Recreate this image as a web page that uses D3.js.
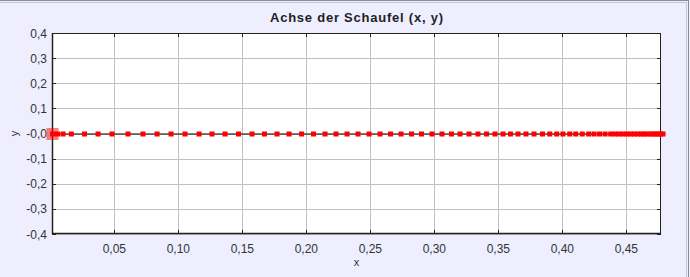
<html>
    <head>
        <script src="https://d3js.org/d3.v7.min.js"></script>
        <style>
            body { margin: 0; background: #eeeeff; }
            svg { display: block; }
            text { font-family: "Liberation Sans", Arial, sans-serif; fill: #333; }
        </style>
    </head>
    <body>
        <script type="text/javascript">
            // blade axis points (x, y)
            const xValues = [
                0.0017, 0.0056, 0.0099, 0.0164, 0.0267, 0.0373, 0.0482, 0.0607, 0.0724, 0.0834,
                0.0943, 0.1052, 0.1162, 0.1263, 0.1365, 0.1470, 0.1576, 0.1673, 0.1771, 0.1865,
                0.1963, 0.2056, 0.2146, 0.2232, 0.2318, 0.2404, 0.2490, 0.2576, 0.2658, 0.2740,
                0.2822, 0.2900, 0.2982, 0.3060, 0.3134, 0.3201, 0.3271, 0.3341, 0.3408, 0.3474,
                0.3537, 0.3595, 0.3654, 0.3716, 0.3779, 0.3845, 0.3902, 0.3956, 0.4005, 0.4058,
                0.4105, 0.4156, 0.4206, 0.4248, 0.4291, 0.4334, 0.4378, 0.4412, 0.4443, 0.4474,
                0.4505, 0.4533, 0.4560, 0.4588, 0.4615, 0.4638, 0.4662, 0.4685, 0.4709, 0.4728,
                0.4748, 0.4767, 0.4787
            ];
            const yValues = [
                0, 0, 0, 0, 0, 0, 0, 0, 0, 0,
                0, 0, 0, 0, 0, 0, 0, 0, 0, 0,
                0, 0, 0, 0, 0, 0, 0, 0, 0, 0,
                0, 0, 0, 0, 0, 0, 0, 0, 0, 0,
                0, 0, 0, 0, 0, 0, 0, 0, 0, 0,
                0, 0, 0, 0, 0, 0, 0, 0, 0, 0,
                0, 0, 0, 0, 0, 0, 0, 0, 0, 0,
                0, 0, 0
            ];
            const selectedIndex = 0;

            const xTicks = [0.05, 0.10, 0.15, 0.20, 0.25, 0.30, 0.35, 0.40, 0.45];
            const xTickLabels = ["0,05", "0,10", "0,15", "0,20", "0,25", "0,30", "0,35", "0,40", "0,45"];
            const yTicks = [0.4, 0.3, 0.2, 0.1, 0, -0.1, -0.2, -0.3, -0.4];
            const yTickLabels = ["0,4", "0,3", "0,2", "0,1", "-0,0", "-0,1", "-0,2", "-0,3", "-0,4"];

            const title = "Achse der Schaufel (x, y)";

            const width = 690;
            const height = 277;
            const plot = {left: 52, top: 33, right: 661, bottom: 234};

            const points = xValues.map((x, i) => ({x: x, y: yValues[i]}));

            const x = d3.scaleLinear().domain([0.0013, 0.4771]).range([plot.left, plot.right]);
            const y = d3.scaleLinear().domain([-0.4, 0.4]).range([plot.bottom, plot.top]);

            const svg = d3.select('body')
                .append('svg')
                .attr('width', width)
                .attr('height', height);

            // panel border (top and right edges)
            svg.append("line").attr("x1", 0).attr("x2", 689).attr("y1", 0.5).attr("y2", 0.5).style("stroke", "#8c8c99");
            svg.append("line").attr("x1", 0).attr("x2", 687).attr("y1", 2.5).attr("y2", 2.5).style("stroke", "#c4c4d4");
            svg.append("line").attr("x1", 686.5).attr("x2", 686.5).attr("y1", 2).attr("y2", height).style("stroke", "#c4c4d4");
            svg.append("line").attr("x1", 688.5).attr("x2", 688.5).attr("y1", 0).attr("y2", height).style("stroke", "#8c8c99");

            svg.append("text")
                .attr("x", (plot.left + plot.right) / 2)
                .attr("y", 22)
                .attr("text-anchor", "middle")
                .attr("textLength", 173)
                .attr("lengthAdjust", "spacing")
                .style("font-weight", "bold")
                .style("font-size", "13px")
                .style("fill", "#222")
                .text(title);

            svg.append("rect")
                .attr("x", plot.left)
                .attr("y", plot.top)
                .attr("width", plot.right - plot.left)
                .attr("height", plot.bottom - plot.top)
                .style("fill", "#fff");

            // grid
            svg.append("g").selectAll("line").data(xTicks).enter().append("line")
                .attr("x1", d => Math.round(x(d)) + 0.5).attr("x2", d => Math.round(x(d)) + 0.5)
                .attr("y1", plot.top).attr("y2", plot.bottom)
                .style("stroke", "#c0c0c0");
            svg.append("g").selectAll("line").data(yTicks).enter().append("line")
                .attr("x1", plot.left).attr("x2", plot.right)
                .attr("y1", d => Math.round(y(d)) + 0.5).attr("y2", d => Math.round(y(d)) + 0.5)
                .style("stroke", "#c0c0c0");

            // inward tick marks on all four sides
            const tickLen = 4;
            const ticks = svg.append("g").style("stroke", "#222");
            xTicks.forEach(d => {
                const px = Math.round(x(d)) + 0.5;
                ticks.append("line").attr("x1", px).attr("x2", px).attr("y1", plot.bottom).attr("y2", plot.bottom - tickLen);
                ticks.append("line").attr("x1", px).attr("x2", px).attr("y1", plot.top).attr("y2", plot.top + tickLen);
            });
            yTicks.forEach(d => {
                const py = Math.round(y(d)) + 0.5;
                ticks.append("line").attr("x1", plot.left).attr("x2", plot.left + tickLen).attr("y1", py).attr("y2", py);
                ticks.append("line").attr("x1", plot.right).attr("x2", plot.right - tickLen).attr("y1", py).attr("y2", py);
            });

            // frame
            svg.append("rect")
                .attr("x", plot.left + 0.5)
                .attr("y", plot.top + 0.5)
                .attr("width", plot.right - plot.left - 1)
                .attr("height", plot.bottom - plot.top - 1)
                .style("fill", "none")
                .style("stroke", "#222");
            svg.append("line").attr("x1", plot.left).attr("x2", plot.right).attr("y1", plot.bottom - 0.5).attr("y2", plot.bottom - 0.5)
                .style("stroke", "#222").style("stroke-width", 1.5);
            svg.append("line").attr("x1", plot.left + 0.5).attr("x2", plot.left + 0.5).attr("y1", plot.top).attr("y2", plot.bottom)
                .style("stroke", "#222").style("stroke-width", 1.5);

            // tick labels
            svg.append("g").selectAll("text").data(xTicks).enter().append("text")
                .attr("x", d => x(d))
                .attr("y", 253)
                .attr("text-anchor", "middle")
                .style("font-size", "12px")
                .text((d, i) => xTickLabels[i]);
            svg.append("g").selectAll("text").data(yTicks).enter().append("text")
                .attr("x", 47)
                .attr("y", d => y(d) + 4.5)
                .attr("text-anchor", "end")
                .style("font-size", "12px")
                .text((d, i) => yTickLabels[i]);

            // axis labels
            svg.append("text")
                .attr("x", (plot.left + plot.right) / 2)
                .attr("y", 266)
                .attr("text-anchor", "middle")
                .style("font-size", "11px")
                .text("x");
            svg.append("text")
                .attr("transform", "translate(18," + y(0) + ") rotate(-90)")
                .attr("text-anchor", "middle")
                .style("font-size", "11px")
                .text("y");

            // the line and its points
            const line = d3.line().x(d => x(d.x)).y(d => y(d.y) + 0.5);
            svg.append("path")
                .datum(points)
                .attr("d", line)
                .style("stroke", "#000")
                .style("stroke-width", 1.2)
                .style("fill", "none");

            const size = 5;
            svg.append("g").selectAll("rect").data(points).enter().append("rect")
                .attr("x", d => x(d.x) - size / 2)
                .attr("y", d => y(d.y) - size / 2 + 0.5)
                .attr("width", size)
                .attr("height", size)
                .style("fill", "#ff0000");

            // highlighted point
            const sel = points[selectedIndex];
            svg.append("rect")
                .attr("x", x(sel.x) - 6)
                .attr("y", y(sel.y) - 5.5)
                .attr("width", 12)
                .attr("height", 12)
                .style("fill", "#ff0000")
                .style("opacity", 0.5);
        </script>
    </body>
</html>
